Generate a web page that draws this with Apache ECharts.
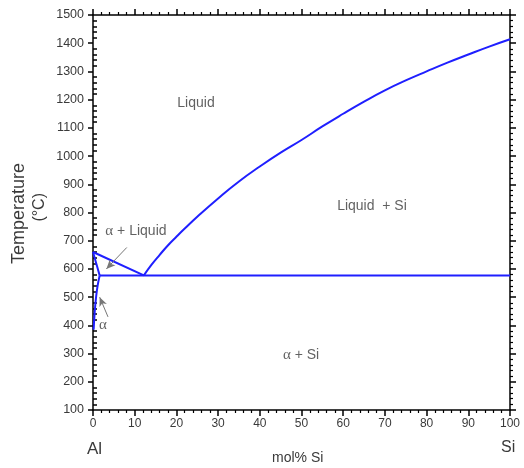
<!DOCTYPE html>
<html>
<head>
<meta charset="utf-8">
<script src="https://cdn.jsdelivr.net/npm/echarts@6/dist/echarts.min.js"></script>
<style>
  html, body { margin: 0; padding: 0; background: #fff; }
  #main { width: 524px; height: 468px; }
</style>
</head>
<body>
<div id="main"></div>
<script>
// phase boundaries (mol% Si, °C)
const liquidusAl = [[0, 660], [12.2, 577]];
const solidusAl = [[0, 660], [1.6, 577]];
const solvusAl = [[1.6, 577], [1.1, 540], [0.7, 495], [0.4, 445], [0.15, 385]];
const eutectic = [[1.6, 577], [100, 577]];
const liquidusSi = [
  [12.2, 577], [14, 614], [16, 650], [18, 684], [20, 714], [22, 743], [25, 785],
  [30, 850], [35, 910], [40, 963], [45, 1012], [50, 1057], [55, 1105], [60, 1150],
  [65, 1193], [70, 1233], [75, 1268], [80, 1300], [85, 1331], [90, 1360], [95, 1388], [100, 1414]
];

// region labels
const regionNames = ['Liquid', 'Liquid  + Si', 'α + Liquid', 'α', 'α + Si'];
const regionX = [24.7, 66.9, 10.3, 2.4, 49.9];
const regionY = [1188, 823, 734, 401, 295];

const xTicks = [0, 10, 20, 30, 40, 50, 60, 70, 80, 90, 100];

let chartDom = document.getElementById('main');
let myChart = echarts.init(chartDom);
const blue = '#1f1fff';
const txt = '#3a3a3a';

function boundary(data, smooth) {
  return {
    type: 'line',
    data: data,
    smooth: smooth || false,
    symbol: 'none',
    lineStyle: { color: blue, width: 2 },
    silent: true,
    z: 3
  };
}

let option = {
  animation: false,
  backgroundColor: '#fff',
  grid: { left: 93, right: 14, top: 15, bottom: 58 },
  xAxis: [
    {
      type: 'value', min: 0, max: 100, interval: 10, position: 'bottom',
      axisLine: { lineStyle: { color: '#000', width: 1.5 } },
      axisTick: { length: 6, lineStyle: { color: '#000', width: 1.5 } },
      minorTick: { show: true, splitNumber: 5, length: 3, lineStyle: { color: '#000', width: 1.2 } },
      axisLabel: { color: txt, fontSize: 12, fontFamily: 'Liberation Sans', margin: 8,
        formatter: v => xTicks.indexOf(v) >= 0 ? String(v) : '' },
      splitLine: { show: false }
    },
    {
      type: 'value', min: 0, max: 100, interval: 10, position: 'top',
      axisLine: { lineStyle: { color: '#000', width: 1.5 } },
      axisTick: { length: 6, lineStyle: { color: '#000', width: 1.5 } },
      minorTick: { show: true, splitNumber: 5, length: 3, lineStyle: { color: '#000', width: 1.2 } },
      axisLabel: { show: false },
      splitLine: { show: false }
    }
  ],
  yAxis: [
    {
      type: 'value', min: 100, max: 1500, interval: 100, position: 'left',
      axisLine: { show: true, lineStyle: { color: '#000', width: 1.5 } },
      axisTick: { show: true, length: 5, lineStyle: { color: '#000', width: 1.5 } },
      axisLabel: { color: txt, fontSize: 12.5, fontFamily: 'Liberation Sans', margin: 9,
        formatter: v => String(v) },
      splitLine: { show: false }
    },
    {
      type: 'value', min: 100, max: 1500, interval: 100, position: 'left',
      axisLine: { show: false },
      axisTick: { show: true, inside: true, length: 0.01, lineStyle: { color: '#000', width: 0 } },
      minorTick: { show: true, splitNumber: 5, length: 4, lineStyle: { color: '#000', width: 1.5 } },
      axisLabel: { show: false },
      splitLine: { show: false }
    },
    {
      type: 'value', min: 100, max: 1500, interval: 100, position: 'right',
      axisLine: { show: true, lineStyle: { color: '#000', width: 1.5 } },
      axisTick: { show: true, length: 6, lineStyle: { color: '#000', width: 1.5 } },
      minorTick: { show: true, splitNumber: 5, length: 3, lineStyle: { color: '#000', width: 1.2 } },
      axisLabel: { show: false },
      splitLine: { show: false }
    }
  ],
  series: [
    boundary(liquidusAl),
    boundary(solidusAl),
    boundary(solvusAl, true),
    boundary(eutectic),
    boundary(liquidusSi, true),
    {
      type: 'scatter',
      symbolSize: 0,
      silent: true,
      data: regionNames.map((n, i) => ({ value: [regionX[i], regionY[i]], name: n })),
      label: {
        show: true,
        position: 'inside',
        formatter: p => p.name.replace(/α/g, '{a|α}'),
        color: txt,
        fontSize: 14,
        fontFamily: 'Liberation Sans',
        rich: { a: { fontFamily: 'Liberation Serif', fontSize: 15, color: txt } }
      },
      z: 5
    },
    {
      type: 'line',
      data: [],
      symbol: 'none',
      markLine: {
        silent: true,
        symbol: ['none', 'arrow'],
        symbolSize: [6, 9],
        label: { show: false },
        lineStyle: { color: '#777', width: 1, type: 'solid' },
        data: [
          [{ coord: [8.1, 676] }, { coord: [3.2, 600] }],
          [{ coord: [3.6, 430], lineStyle: { curveness: 0.5 } }, { coord: [1.6, 500] }]
        ]
      }
    }
  ],
  graphic: [
    { type: 'text', left: 10, top: 163, rotation: Math.PI / 2,
      style: { text: 'Temperature', fill: txt, font: '18px "Liberation Sans"' } },
    { type: 'text', left: 32, top: 193, rotation: Math.PI / 2,
      style: { text: '(°C)', fill: txt, font: '16px "Liberation Sans"' } },
    { type: 'text', left: 87, top: 441, style: { text: 'Al', fill: txt, font: '17px "Liberation Sans"' } },
    { type: 'text', left: 501, top: 440, style: { text: 'Si', fill: txt, font: '16px "Liberation Sans"' } },
    { type: 'text', left: 272, top: 451, style: { text: 'mol% Si', fill: txt, font: '14px "Liberation Sans"' } }
  ]
};

option && myChart.setOption(option);
</script>
</body>
</html>
